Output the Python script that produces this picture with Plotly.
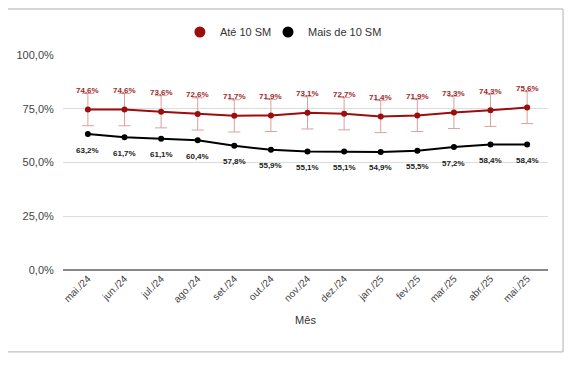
import plotly.graph_objects as go

months = ["mai./24", "jun./24", "jul./24", "ago./24", "set./24", "out./24", "nov./24",
          "dez./24", "jan./25", "fev./25", "mar./25", "abr./25", "mai./25"]
ate10 = [74.6, 74.6, 73.6, 72.6, 71.7, 71.9, 73.1, 72.7, 71.4, 71.9, 73.3, 74.3, 75.6]
ate10_err = [7.5] * 13
mais10 = [63.2, 61.7, 61.1, 60.4, 57.8, 55.9, 55.1, 55.1, 54.9, 55.5, 57.2, 58.4, 58.4]
y_ticks = [0, 25, 50, 75, 100]

RED = "#9c0d0d"
FONT = "Liberation Sans, Arial, sans-serif"

def fmt(v):
    return f"{v:.1f}%".replace(".", ",")

fig = go.Figure()
fig.add_trace(go.Scatter(
    x=months, y=ate10, name="Até 10 SM", mode="lines+markers", showlegend=False,
    line=dict(color=RED, width=2), marker=dict(color=RED, size=6),
    error_y=dict(type="data", array=ate10_err, color="#d9a0a0", thickness=1, width=6),
))
fig.add_trace(go.Scatter(
    x=months, y=mais10, name="Mais de 10 SM", mode="lines+markers", showlegend=False,
    line=dict(color="#000000", width=2), marker=dict(color="#000000", size=6),
))
# legend entries (circle only)
fig.add_trace(go.Scatter(x=[None], y=[None], name="Até 10 SM", mode="markers",
                         marker=dict(color=RED, size=11), legend="legend"))
fig.add_trace(go.Scatter(x=[None], y=[None], name="Mais de 10 SM", mode="markers",
                         marker=dict(color="#000000", size=11), legend="legend2"))

for m, v in zip(months, ate10):
    fig.add_annotation(x=m, y=v, text=f"<b>{fmt(v)}</b>", showarrow=False, yshift=19,
                       font=dict(size=8, color="#a02a2a", family=FONT))
for m, v in zip(months, mais10):
    fig.add_annotation(x=m, y=v, text=f"<b>{fmt(v)}</b>", showarrow=False, yshift=-16,
                       font=dict(size=8, color="#222222", family=FONT))

fig.add_shape(type="rect", xref="paper", yref="paper", x0=-0.1155, x1=1.031, y0=-0.381, y1=1.214,
              line=dict(color="#b0b0b0", width=1), layer="below")

leg_common = dict(orientation="h", xanchor="left", y=1.107, yanchor="middle",
                  font=dict(size=11, color="#333333"), itemwidth=30,
                  bgcolor="rgba(0,0,0,0)")

fig.update_layout(
    width=564, height=357,
    margin=dict(l=55, r=24, t=47, b=95, autoexpand=False),
    paper_bgcolor="white", plot_bgcolor="white",
    font=dict(family=FONT, size=11, color="#444444"),
    showlegend=True,
    legend=dict(x=0.241, **leg_common),
    legend2=dict(x=0.4227, **leg_common),
    xaxis=dict(range=[-0.68, 12.57], tickangle=-45, showgrid=False, showline=False,
               automargin=False, ticks="", tickfont=dict(size=10, color="#444444"),
               title=dict(text="Mês", font=dict(size=11, color="#333333"), standoff=12)),
    yaxis=dict(range=[0, 100], tickvals=y_ticks, ticktext=[fmt(t) for t in y_ticks],
               automargin=False,
               showgrid=True, gridcolor="#dddddd", gridwidth=1,
               zeroline=True, zerolinecolor="#888888", zerolinewidth=1.5,
               tickfont=dict(size=11, color="#444444"), ticks="outside", ticklen=6,
               tickcolor="rgba(0,0,0,0)"),
)

fig.write_html("out.html")
